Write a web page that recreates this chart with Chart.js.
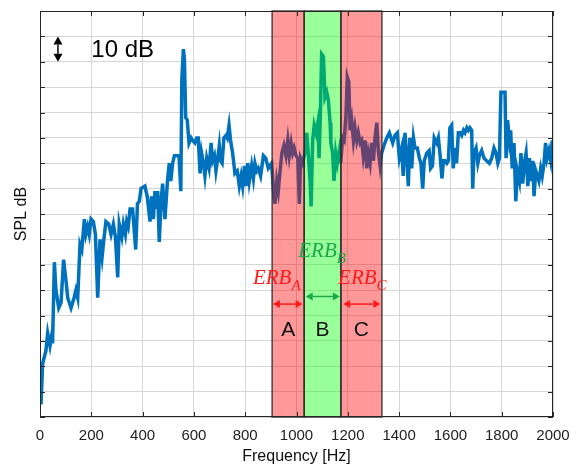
<!DOCTYPE html>
<html>
<head>
<meta charset="utf-8">
<script src="https://cdn.jsdelivr.net/npm/chart.js@4.4.0/dist/chart.umd.min.js"></script>
<style>
  html, body { margin: 0; padding: 0; background: #fff; }
</style>
</head>
<body>
<canvas id="spl" width="581" height="468"></canvas>
<script>
// spectrum: frequency (Hz) and level (dB, one grid step = 10 dB)
const freq = [4,10,23,30,39,47,49,56,62,73,82,92,101,108,121,133,140,147,156,163,
  173,179,186,192,199,208,216,225,234,242,248,257,268,277,286,294,303,309,319,325,
  333,338,344,351,361,373,380,387,394,409,418,429,435,442,448,455,459,465,472,478,
  487,497,504,510,517,524,533,542,549,553,559,563,568,574,581,589,595,604,611,617,
  624,630,637,643,650,659,667,673,680,686,693,699,704,710,717,725,730,737,743,751,
  760,769,777,784,790,797,803,810,816,825,832,838,845,851,860,871,880,890,903,910,
  916,923,929,936,943,951,959,966,972,979,985,991,998,1005,1011,1016,1024,1033,1040,1046,
  1053,1057,1063,1069,1076,1083,1088,1093,1098,1105,1111,1118,1124,1131,1134,1141,1146,1153,1159,1167,
  1172,1180,1186,1193,1198,1204,1209,1215,1222,1228,1235,1241,1248,1254,1260,1267,1274,1280,1287,1293,
  1300,1306,1313,1319,1326,1332,1341,1352,1362,1375,1384,1393,1401,1410,1416,1423,1430,1436,1442,1449,
  1456,1462,1471,1479,1485,1492,1498,1508,1517,1523,1530,1537,1547,1553,1560,1567,1573,1579,1586,1592,
  1598,1605,1611,1618,1624,1631,1638,1644,1651,1657,1664,1670,1676,1683,1687,1692,1700,1707,1713,1722,
  1731,1741,1752,1761,1770,1778,1785,1791,1797,1806,1813,1817,1823,1830,1835,1841,1848,1855,1861,1869,
  1875,1882,1888,1895,1902,1908,1914,1921,1926,1933,1939,1945,1952,1958,1965,1971,1977,1984,1991,1997];
const spl = [5,21,26,33,28,33,29,61,50,43,45,62,54,47,43,47,50,47,68,66,
  78,72,75,72,78,77,72,47,70,63,69,77,76,72,76,71,55,76,71,76,
  72,77,75,82,82,66,84,85,90,91,87,77,87,78,89,82,89,69,85,92,
  78,93,100,93,100,103,103,103,89,133,145,141,118,117,108,110,109,108,110,110,
  96,104,100,95,102,98,108,101,103,97,102,107,101,100,110,111,110,115,109,104,
  96,97,91,95,91,99,91,100,93,99,94,100,97,98,95,103,102,98,100,89,
  84,93,89,97,104,107,103,109,103,108,104,106,103,102,84,102,100,104,112,104,
  93,83,109,115,112,116,102,119,143,142,126,128,125,116,108,104,93,104,100,105,
  100,110,109,119,134,132,113,117,109,114,109,112,108,109,103,109,98,104,100,108,
  101,110,116,105,99,104,107,110,112,108,111,112,102,106,95,112,102,91,110,98,
  110,106,106,102,100,90,101,104,105,98,99,110,108,110,103,94,101,101,100,101,
  114,115,98,106,100,112,112,111,113,112,114,113,114,113,90,104,106,100,103,105,
  102,101,100,102,106,104,100,102,128,128,128,102,117,109,113,98,108,85,97,93,
  104,92,100,104,91,102,93,101,87,97,95,93,98,95,100,108,102,105,101,109];

const xTicks = [0,200,400,600,800,1000,1200,1400,1600,1800,2000];

// ERB bands: edges in Hz, names, fills
const bandEdges = [905, 1030, 1173, 1333];
const bandNames = ['A', 'B', 'C'];
const bandFills = ['rgba(255,0,0,0.4)', 'rgba(0,255,0,0.4)', 'rgba(255,0,0,0.4)'];
const labelColors = ['#ff1a1a', '#1aa84a', '#ff1a1a'];
// arrow spans (Hz) and heights (dB) under each ERB label
const arrowFrom = [908, 1036, 1182];
const arrowTo = [1024, 1169, 1327];
const arrowLevel = [44.5, 47.5, 44.5];
const erbLeft = [830, 1007, 1162];
const erbLevel = [52.5, 63, 52.5];

function drawDoubleArrow(ctx, x0, y0, x1, y1, color, head, half) {
    ctx.save();
    ctx.strokeStyle = color;
    ctx.fillStyle = color;
    ctx.lineWidth = 1.5;
    const ang = Math.atan2(y1 - y0, x1 - x0);
    const cx = Math.cos(ang), cy = Math.sin(ang);
    ctx.beginPath();
    ctx.moveTo(x0 + cx * head, y0 + cy * head);
    ctx.lineTo(x1 - cx * head, y1 - cy * head);
    ctx.stroke();
    [[x0, y0, 1], [x1, y1, -1]].forEach(([px, py, d]) => {
        const bx = px + cx * head * d, by = py + cy * head * d;
        ctx.beginPath();
        ctx.moveTo(px, py);
        ctx.lineTo(bx - cy * half, by + cx * half);
        ctx.lineTo(bx + cy * half, by - cx * half);
        ctx.closePath();
        ctx.fill();
    });
    ctx.restore();
}

const overlay = {
    id: 'overlay',
    afterDatasetsDraw(chart) {
        const { ctx, chartArea: a, scales: { x } } = chart;
        ctx.save();
        for (let i = 0; i < bandNames.length; i++) {
            const x0 = x.getPixelForValue(bandEdges[i]);
            const x1 = x.getPixelForValue(bandEdges[i + 1]);
            ctx.fillStyle = bandFills[i];
            ctx.fillRect(x0, a.top, x1 - x0, a.bottom - a.top);
        }
        ctx.strokeStyle = 'rgba(45,45,45,0.85)';
        ctx.lineWidth = 1.5;
        for (let i = 0; i < bandNames.length; i++) {
            const x0 = x.getPixelForValue(bandEdges[i]);
            const x1 = x.getPixelForValue(bandEdges[i + 1]);
            ctx.strokeRect(x0, a.top, x1 - x0, a.bottom - a.top);
        }
        ctx.restore();
    },
    afterDraw(chart) {
        const { ctx, chartArea: a, scales: { x, y } } = chart;
        ctx.save();
        // box + inward ticks
        ctx.strokeStyle = '#262626';
        ctx.lineWidth = 1;
        ctx.strokeRect(a.left + 0.5, a.top + 0.5, a.right - a.left - 1, a.bottom - a.top - 1);
        ctx.beginPath();
        x.ticks.forEach(t => {
            const px = Math.round(x.getPixelForValue(t.value)) + 0.5;
            ctx.moveTo(px, a.bottom); ctx.lineTo(px, a.bottom - 5);
            ctx.moveTo(px, a.top); ctx.lineTo(px, a.top + 5);
        });
        y.ticks.forEach(t => {
            const py = Math.round(y.getPixelForValue(t.value)) + 0.5;
            ctx.moveTo(a.left, py); ctx.lineTo(a.left + 5, py);
            ctx.moveTo(a.right, py); ctx.lineTo(a.right - 5, py);
        });
        ctx.stroke();

        // ERB labels, arrows and band letters
        for (let i = 0; i < bandNames.length; i++) {
            const lx = x.getPixelForValue(erbLeft[i]);
            const ly = y.getPixelForValue(erbLevel[i]);
            ctx.fillStyle = labelColors[i];
            ctx.textAlign = 'left';
            ctx.textBaseline = 'alphabetic';
            ctx.font = 'italic 21px "Liberation Serif"';
            ctx.fillText('ERB', lx, ly);
            const w = ctx.measureText('ERB').width;
            ctx.font = 'italic 15px "Liberation Serif"';
            ctx.fillText(bandNames[i], lx + w, ly + 6);

            const ay = y.getPixelForValue(arrowLevel[i]);
            drawDoubleArrow(ctx, x.getPixelForValue(arrowFrom[i]), ay,
                x.getPixelForValue(arrowTo[i]), ay, labelColors[i], 7, 4);

            const mid = x.getPixelForValue((bandEdges[i] + bandEdges[i + 1]) / 2);
            ctx.fillStyle = '#111';
            ctx.font = '21px "Liberation Sans"';
            ctx.textAlign = 'center';
            ctx.fillText(bandNames[i], mid, y.getPixelForValue(32));
        }

        // 10 dB scale marker
        const sx = x.getPixelForValue(70);
        drawDoubleArrow(ctx, sx, y.getPixelForValue(150), sx, y.getPixelForValue(140), '#000', 8, 4.5);
        ctx.fillStyle = '#000';
        ctx.font = '24px "Liberation Sans"';
        ctx.textAlign = 'left';
        ctx.fillText('10 dB', x.getPixelForValue(200), y.getPixelForValue(142));
        ctx.restore();
    }
};

const points = freq.map((f, i) => ({ x: f, y: spl[i] }));

new Chart(document.getElementById('spl'), {
    type: 'line',
    data: {
        datasets: [{
            data: points,
            borderColor: '#0072bd',
            borderWidth: 3.5,
            pointRadius: 0,
            tension: 0,
            fill: false
        }]
    },
    options: {
        responsive: false,
        animation: false,
        devicePixelRatio: 1,
        layout: { padding: { top: 11, right: 28, left: 0, bottom: 0 } },
        plugins: { legend: { display: false }, tooltip: { enabled: false } },
        scales: {
            x: {
                type: 'linear',
                min: 0,
                max: 2000,
                afterBuildTicks: (s) => { s.ticks = xTicks.map(v => ({ value: v })); },
                afterFit: (s) => { s.height = 51; },
                grid: { color: '#d6d6d6', drawTicks: false },
                border: { display: false },
                ticks: { padding: 10, color: '#222', font: { family: 'Liberation Sans', size: 15 },
                    maxRotation: 0, callback: (v) => String(v) },
                title: { display: true, text: 'Frequency [Hz]', color: '#111',
                    font: { family: 'Liberation Sans', size: 16 }, padding: { top: 0, bottom: 2 } }
            },
            y: {
                min: 0,
                max: 160,
                afterFit: (s) => { s.width = 40; },
                grid: { color: '#d6d6d6', drawTicks: false },
                border: { display: false },
                ticks: { display: false, stepSize: 10 },
                title: { display: true, text: 'SPL dB', color: '#111',
                    font: { family: 'Liberation Sans', size: 16 }, padding: { top: 12, bottom: 0 } }
            }
        }
    },
    plugins: [overlay]
});
</script>
</body>
</html>
